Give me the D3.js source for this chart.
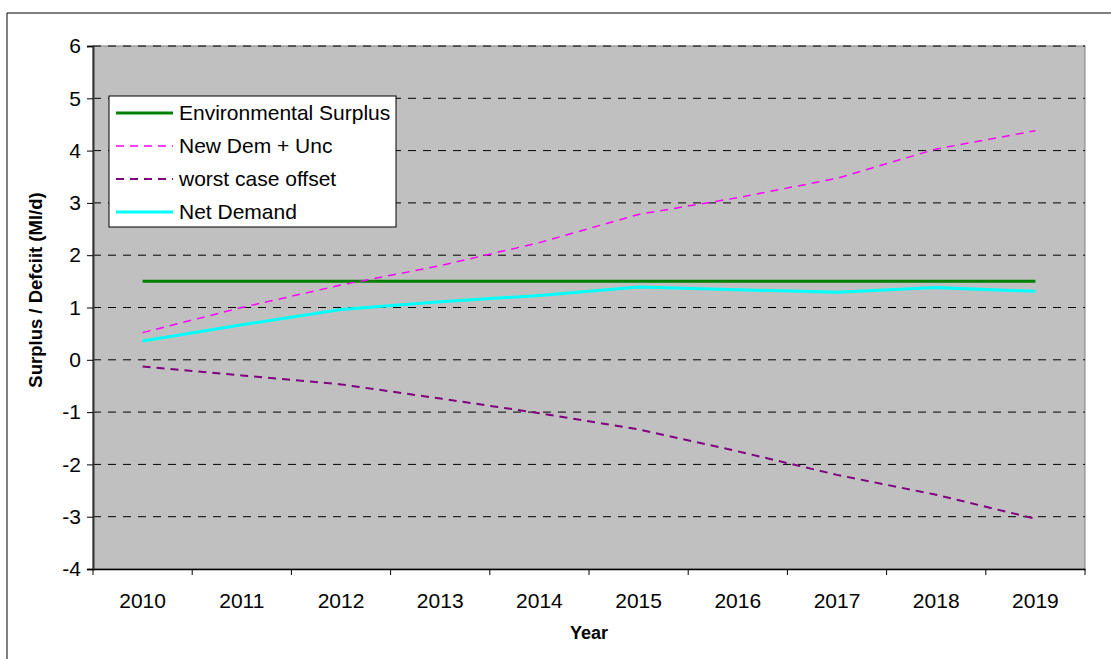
<!DOCTYPE html>
<html>
<head>
<meta charset="utf-8">
<script src="https://cdn.jsdelivr.net/npm/d3@7"></script>
<style>
  body { margin: 0; background: #fff; }
  svg text { font-family: "Liberation Sans", Arial, sans-serif; fill: #000; }
</style>
</head>
<body>
<svg id="chart" width="1111" height="659"></svg>
<script>
// ---- data ----
const years = ['2010', '2011', '2012', '2013', '2014', '2015', '2016', '2017', '2018', '2019'];
const envSurplus = [1.5, 1.5, 1.5, 1.5, 1.5, 1.5, 1.5, 1.5, 1.5, 1.5];
const newDemUnc = [0.52, 1.0, 1.43, 1.8, 2.24, 2.78, 3.1, 3.47, 4.03, 4.38];
const worstCase = [-0.13, -0.30, -0.47, -0.74, -1.02, -1.33, -1.75, -2.2, -2.58, -3.04];
const netDemand = [0.36, 0.67, 0.96, 1.11, 1.23, 1.39, 1.34, 1.29, 1.38, 1.31];
const yTicks = [-4, -3, -2, -1, 0, 1, 2, 3, 4, 5, 6];

const series = [
  { name: 'Environmental Surplus', values: envSurplus, color: '#008000', width: 3, dash: null },
  { name: 'New Dem + Unc', values: newDemUnc, color: '#ff00ff', width: 1.5, dash: '8,6' },
  { name: 'worst case offset', values: worstCase, color: '#800080', width: 2, dash: '8,6' },
  { name: 'Net Demand', values: netDemand, color: '#00ffff', width: 3, dash: null }
];

const svg = d3.select('#chart');
const margin = { left: 93, right: 1085, top: 46, bottom: 569 };

// outer frame (only top/left visible in the picture)
svg.append('path')
  .attr('d', 'M7,659 L7,13 L1111,13')
  .attr('fill', 'none')
  .attr('stroke', '#000')
  .attr('stroke-width', 1);

const x = d3.scaleBand().domain(years).range([margin.left, margin.right]);
const y = d3.scaleLinear().domain([-4, 6]).range([margin.bottom, margin.top]);

// plot area
svg.append('rect')
  .attr('x', margin.left).attr('y', margin.top)
  .attr('width', margin.right - margin.left)
  .attr('height', margin.bottom - margin.top)
  .attr('fill', '#c0c0c0')
  .attr('stroke', '#808080');

// gridlines
svg.append('g')
  .selectAll('line')
  .data(yTicks.filter(d => d !== -4))
  .join('line')
  .attr('x1', margin.left).attr('x2', margin.right)
  .attr('y1', d => y(d)).attr('y2', d => y(d))
  .attr('stroke', '#000')
  .attr('stroke-dasharray', '8,7');

// y axis
const yAxis = svg.append('g')
  .attr('transform', `translate(${margin.left},0)`)
  .call(d3.axisLeft(y).tickValues(yTicks).tickFormat(d => String(d)).tickSize(6).tickPadding(6));
yAxis.select('.domain').attr('stroke', '#333').attr('stroke-width', 2);
yAxis.selectAll('text').style('font-size', '21px');

// x axis
const xAxis = svg.append('g')
  .attr('transform', `translate(0,${margin.bottom})`)
  .call(d3.axisBottom(x).tickSize(0).tickPadding(24));
xAxis.select('.domain').attr('stroke', '#000').attr('stroke-width', 1.5);
xAxis.selectAll('text').style('font-size', '21px');
// tick marks at category boundaries
xAxis.selectAll('line.bound')
  .data(years.concat(['end']))
  .join('line')
  .attr('class', 'bound')
  .attr('x1', (d, i) => margin.left + i * x.step())
  .attr('x2', (d, i) => margin.left + i * x.step())
  .attr('y1', 0).attr('y2', 6)
  .attr('stroke', '#000');

// axis titles
svg.append('text')
  .attr('x', (margin.left + margin.right) / 2)
  .attr('y', 639)
  .attr('text-anchor', 'middle')
  .style('font-size', '18px')
  .style('font-weight', 'bold')
  .text('Year');

svg.append('text')
  .attr('transform', 'translate(42,290) rotate(-90)')
  .attr('text-anchor', 'middle')
  .style('font-size', '18.5px')
  .style('font-weight', 'bold')
  .text('Surplus / Defciit (Ml/d)');

// lines
const line = d3.line()
  .x((d, i) => x(years[i]) + x.bandwidth() / 2)
  .y(d => y(d));

svg.append('g')
  .selectAll('path')
  .data(series)
  .join('path')
  .attr('d', d => line(d.values))
  .attr('fill', 'none')
  .attr('stroke', d => d.color)
  .attr('stroke-width', d => d.width)
  .attr('stroke-dasharray', d => d.dash);

// legend
const legend = svg.append('g').attr('transform', 'translate(109,96)');
legend.append('rect')
  .attr('width', 287).attr('height', 131)
  .attr('fill', '#fff')
  .attr('stroke', '#000');

const item = legend.selectAll('g.item')
  .data(series)
  .join('g')
  .attr('class', 'item')
  .attr('transform', (d, i) => `translate(0,${17 + i * 33})`);

item.append('line')
  .attr('x1', 7).attr('x2', 64)
  .attr('stroke', d => d.color)
  .attr('stroke-width', d => d.width)
  .attr('stroke-dasharray', d => d.dash);

item.append('text')
  .attr('x', 70)
  .attr('dy', '0.35em')
  .style('font-size', '21px')
  .text(d => d.name);
</script>
</body>
</html>
